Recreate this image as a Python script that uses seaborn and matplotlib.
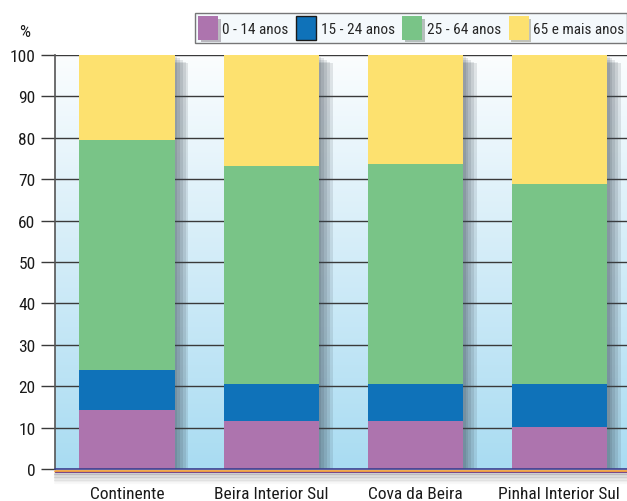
import numpy as np
import pandas as pd
import seaborn as sns
import matplotlib.pyplot as plt
import matplotlib.patheffects as pe
from matplotlib.patches import Patch
from matplotlib.lines import Line2D
from matplotlib.colors import LinearSegmentedColormap
from matplotlib import font_manager

# data (% of population by age group)
regions = ['Continente', 'Beira Interior Sul', 'Cova da Beira', 'Pinhal Interior Sul']
age_groups = ['0 - 14 anos', '15 - 24 anos', '25 - 64 anos', '65 e mais anos']
a0_14 = [14.3, 11.6, 11.6, 10.2]
a15_24 = [9.7, 9.0, 9.0, 10.4]
a25_64 = [55.4, 52.5, 53.0, 48.2]
a65 = [20.6, 26.9, 26.4, 31.2]
colors = ['#ad74ae', '#0f72b9', '#79c487', '#fde16f']

sns.set_theme(style='white')
names = {f.name for f in font_manager.fontManager.ttflist}
fams = [n for n in ['Roboto Condensed', 'Liberation Sans Narrow', 'DejaVu Sans Condensed'] if n in names]
plt.rcParams['font.family'] = fams + ['DejaVu Sans']
plt.rcParams['font.stretch'] = 'condensed'

df = pd.DataFrame({'region': regions, 'a': a0_14, 'b': a15_24, 'c': a25_64, 'd': a65})
df['cb'] = df['a'] + df['b']
df['cc'] = df['cb'] + df['c']
df['cd'] = df['cc'] + df['d']

fig = plt.figure(figsize=(6.27, 5.02), dpi=100)
ax = fig.add_axes([55/627, 32/502, 572/627, 414/502])

# gradient background
grad = np.linspace(0, 1, 256).reshape(-1, 1)
bg = LinearSegmentedColormap.from_list('bg', ['#a9dcf2', '#d2ecf8', '#fbfdfe'])
ax.imshow(grad, aspect='auto', cmap=bg, origin='lower',
          extent=[-0.5, 3.47, 0, 100], zorder=0)

for y in range(10, 101, 10):
    ax.axhline(y, color='#3a3a3a', lw=1.0, zorder=0.5)

# soft drop shadow
shadow = [pe.SimplePatchShadow(offset=(k, -k * 0.6), shadow_rgbFace='#3a4550', alpha=0.13)
          for k in (2, 4, 6, 8, 10)] + [pe.Normal()]
layers = [('cd', colors[3]), ('cc', colors[2]), ('cb', colors[1]), ('a', colors[0])]
for col, c in layers:
    sns.barplot(data=df, x='region', y=col, color=c, saturation=1, width=0.66,
                ax=ax, zorder=2)
for j, p in enumerate(ax.patches):
    p.set_edgecolor('none')
    p.set_zorder(2)
    if j < len(regions):
        p.set_path_effects(shadow)

ax.set_xlim(-0.5, 3.47)
ax.set_ylim(0, 100)
ax.set_yticks(range(0, 101, 10))
ax.set_yticklabels([str(v) for v in range(0, 101, 10)], fontsize=12.5, color='#1a1a1a')
ax.tick_params(axis='y', left=True, length=10, width=1, color='#3a3a3a', pad=4)
ax.tick_params(axis='x', bottom=False, pad=6)
ax.set_xticks(range(len(regions)))
ax.set_xticklabels(regions, fontsize=12.5, color='#1a1a1a')
ax.set_xlabel('')
ax.set_ylabel('')
for s in ['top', 'right', 'bottom']:
    ax.spines[s].set_visible(False)
ax.spines['left'].set_color('#555555')
ax.spines['left'].set_linewidth(1.2)
ax.spines['left'].set_zorder(3)

# base strip: dark blue / orange / purple with a soft shadow below
def hline(y, c, lw, a=1.0):
    fig.add_artist(Line2D([55/627, 1], [1 - y/502] * 2, color=c, lw=lw, alpha=a,
                          transform=fig.transFigure, zorder=5))
for k in range(7):
    hline(474.5 + k * 1.5, '#505050', 1.6, 0.22 - k * 0.03)
hline(469.5, '#3b3f8f', 1.2)
hline(471.5, '#f0a040', 2.0)
hline(473.3, '#7a4a8a', 0.8)

fig.text(25/627, 1 - 33/502, '%', fontsize=12.5, ha='center', va='center', color='#1a1a1a')

handles = [Patch(facecolor=c, edgecolor=('#1a1a1a' if i == 1 else 'none'), lw=1)
           for i, c in enumerate(colors)]
leg = fig.legend(handles, age_groups, loc='upper left', bbox_to_anchor=(195/627, 1 - 14/502),
                 ncol=4, fontsize=11, frameon=True, handlelength=1.3, handleheight=2.0,
                 handletextpad=0.3, columnspacing=0.5, borderpad=0.2, borderaxespad=0,
                 fancybox=False)
leg.get_frame().set_edgecolor('#555555')
leg.get_frame().set_facecolor('#f2f8fc')
leg.get_frame().set_linewidth(1.0)
for i, h in enumerate(leg.legend_handles):
    if i != 1:
        h.set_path_effects([pe.SimplePatchShadow(offset=(2, -2), alpha=0.3), pe.Normal()])

fig.savefig('out.png', dpi=100)
